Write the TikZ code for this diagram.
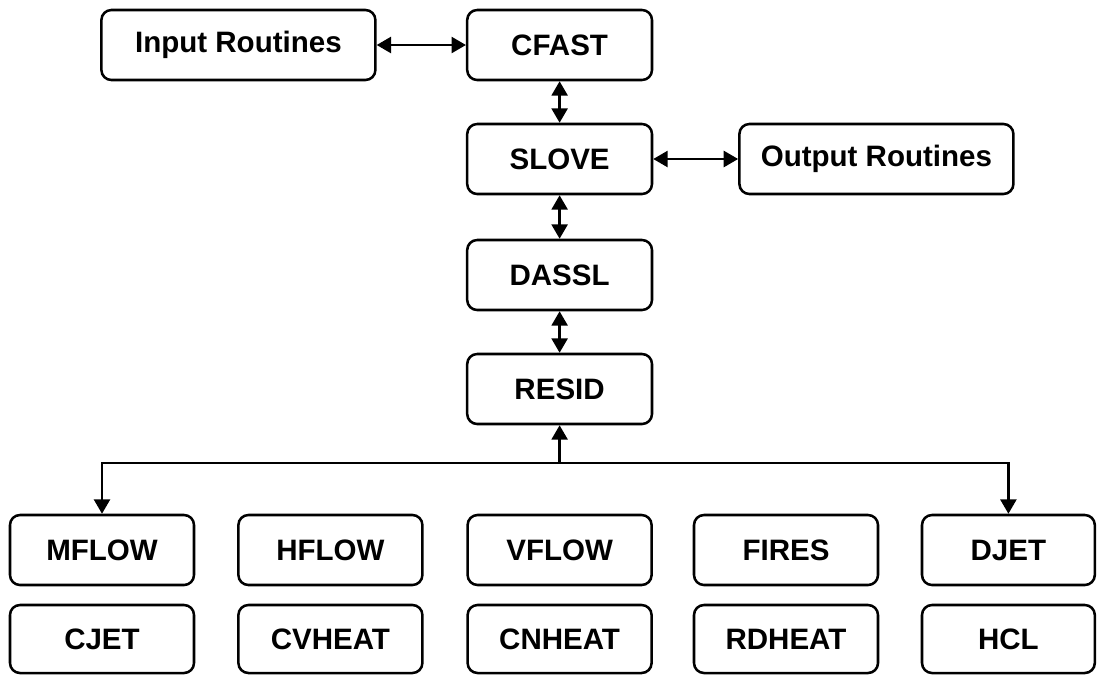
\documentclass[tikz,border=0pt]{standalone}
\usepackage{fontspec}
\setmainfont{Liberation Sans}
\usetikzlibrary{arrows.meta}

\begin{document}
\begin{tikzpicture}[routine/.style={draw, line width=1.8pt, rounded corners=0.25cm, minimum width=4.62cm, minimum height=1.75cm, inner sep=0pt, font=\fontsize{21}{25}\selectfont\bfseries},
wide/.style={routine, minimum width=6.85cm},
sub/.style={routine, minimum width=4.6cm},
>={Triangle[length=3.6mm,width=4mm]}, line width=1.8pt]
\useasboundingbox (0,0) rectangle (27.425,-16.875);
\node[wide] (inp) at (5.96,-1.125) {Input Routines};
\node[routine] (cfast) at (13.99,-1.125) {CFAST};
\node[routine] (slove) at (13.99,-3.975) {SLOVE};
\node[wide] (outp) at (21.91,-3.975) {Output Routines};
\node[routine] (dassl) at (13.99,-6.875) {DASSL};
\node[routine] (resid) at (13.99,-9.725) {RESID};
\coordinate (bus) at (13.99,-11.575);
% first row of subroutines
\node[sub] (mflow) at (2.55,-13.75) {MFLOW};
\node[sub] (hflow) at (8.26,-13.75) {HFLOW};
\node[sub] (vflow) at (13.99,-13.75) {VFLOW};
\node[sub] (fires) at (19.65,-13.75) {FIRES};
\node[sub, minimum width=4.32cm] (djet) at (25.21,-13.75) {DJET};
% second row
\node[sub, minimum height=1.7cm] (cjet) at (2.55,-15.975) {CJET};
\node[sub, minimum height=1.7cm] (cvheat) at (8.26,-15.975) {CVHEAT};
\node[sub, minimum height=1.7cm] (cnheat) at (13.99,-15.975) {CNHEAT};
\node[sub, minimum height=1.7cm] (rdheat) at (19.65,-15.975) {RDHEAT};
\node[sub, minimum height=1.7cm, minimum width=4.32cm] (hcl) at (25.21,-15.975) {HCL};
\draw[<->] (inp) -- (cfast);
\draw[<->] (slove) -- (outp);
\draw[<->] (cfast) -- (slove);
\draw[<->] (slove) -- (dassl);
\draw[<->] (dassl) -- (resid);
\draw[->] (bus) -- (resid);
\draw[->] (bus) -| (mflow);
\draw[->] (bus) -| (djet);
\end{tikzpicture}
\end{document}
